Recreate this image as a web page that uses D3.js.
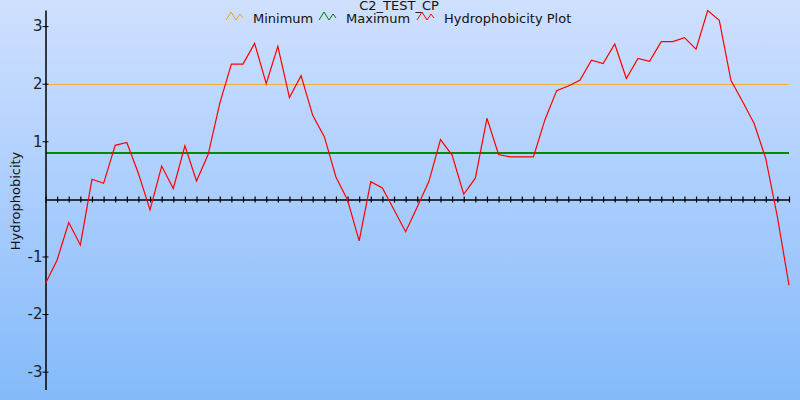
<!DOCTYPE html>
<html>
<head>
<meta charset="utf-8">
<script src="https://cdn.jsdelivr.net/npm/d3@7"></script>
<style>
  html, body { margin: 0; padding: 0; }
  svg { display: block; font-family: "DejaVu Sans", Verdana, sans-serif; }
</style>
</head>
<body>
<svg id="chart" width="800" height="400"></svg>
<script>
const title = "C2_TEST_CP";
const yLabel = "Hydrophobicity";
const legendLabels = ["Minimum", "Maximum", "Hydrophobicity Plot"];
const legendColors = ["#f0a020", "#008000", "#ff0000"];
const minimumValue = 2.0;
const maximumValue = 0.8;
const yTicks = [-3, -2, -1, 1, 2, 3];
const hydro = [
  -1.47, -1.06, -0.41, -0.80, 0.34, 0.27, 0.93, 0.98, 0.44, -0.19,
  0.57, 0.18, 0.92, 0.31, 0.77, 1.66, 2.34, 2.34, 2.70, 2.00,
  2.65, 1.76, 2.14, 1.45, 1.08, 0.38, -0.02, -0.73, 0.30, 0.19,
  -0.19, -0.57, -0.14, 0.30, 1.03, 0.76, 0.08, 0.36, 1.40, 0.77,
  0.73, 0.73, 0.73, 1.38, 1.88, 1.96, 2.06, 2.41, 2.35, 2.69,
  2.09, 2.44, 2.39, 2.73, 2.73, 2.80, 2.60, 3.27, 3.10, 2.06,
  1.69, 1.31, 0.70, -0.31, -1.50
];

const svg = d3.select("#chart");
const W = 800, H = 400;

// background gradient
const defs = svg.append("defs");
const grad = defs.append("linearGradient").attr("id", "bg")
  .attr("x1", 0).attr("y1", 0).attr("x2", 0).attr("y2", 1);
grad.append("stop").attr("offset", "0%").attr("stop-color", "#cfe0ff");
grad.append("stop").attr("offset", "100%").attr("stop-color", "#84bafa");
svg.append("rect").attr("width", W).attr("height", H).attr("fill", "url(#bg)");

const x = d3.scaleLinear().domain([0, hydro.length - 1]).range([45.5, 789]);
const y = d3.scaleLinear().domain([-3.31, 3.28]).range([389.5, 10]);

// threshold lines
svg.append("line")
  .attr("x1", x(0)).attr("x2", x(hydro.length - 1))
  .attr("y1", Math.round(y(minimumValue)) + 0.5).attr("y2", Math.round(y(minimumValue)) + 0.5)
  .attr("stroke", "#f0b040").attr("stroke-width", 1).attr("shape-rendering", "crispEdges");
svg.append("line")
  .attr("x1", x(0)).attr("x2", x(hydro.length - 1))
  .attr("y1", Math.round(y(maximumValue))).attr("y2", Math.round(y(maximumValue)))
  .attr("stroke", "#008a00").attr("stroke-width", 2).attr("shape-rendering", "crispEdges");

// x axis at y=0
const xAxis = d3.axisBottom(x).tickValues(d3.range(hydro.length)).tickSize(3).tickFormat("").tickSizeOuter(0);
const gx = svg.append("g").attr("transform", `translate(0,${Math.round(y(0)) + 0.5})`).call(xAxis);
gx.selectAll(".tick line").attr("y1", -3).attr("y2", 3).attr("stroke", "#000").attr("stroke-width", 1.2);
gx.select(".domain").attr("stroke", "#000").attr("stroke-width", 1.5);

// y axis
const yAxis = d3.axisLeft(y).tickValues(yTicks).tickSize(3).tickSizeOuter(0).tickFormat(d => String(d));
const gy = svg.append("g").attr("transform", "translate(45.5,0)").call(yAxis);
gy.select(".domain").attr("stroke", "#000").attr("stroke-width", 1.5);
gy.selectAll(".tick line").attr("x1", -3).attr("x2", 3).attr("stroke", "#000");
gy.selectAll(".tick text").attr("x", -3).attr("font-size", 15)
  .attr("font-family", "DejaVu Sans, sans-serif").attr("fill", "#222");

// data line
const line = d3.line().x((d, i) => x(i)).y(d => y(d));
svg.append("path").datum(hydro)
  .attr("d", line).attr("fill", "none").attr("stroke", "#ff0000").attr("stroke-width", 1.2);

// y label
svg.append("text")
  .attr("transform", "translate(20,201) rotate(-90)")
  .attr("text-anchor", "middle").attr("font-size", 13).attr("fill", "#111")
  .text(yLabel);

// title
svg.append("text").attr("x", 399).attr("y", 10).attr("text-anchor", "middle")
  .attr("font-size", 13).attr("fill", "#111").text(title);

// legend
const legendX = [226, 319, 417];
const lg = svg.append("g");
legendLabels.forEach((lab, i) => {
  const g = lg.append("g").attr("transform", `translate(${legendX[i]},11)`);
  g.append("path").attr("d", "M0,9 L5,1 L10,9 L14,3 L17,7")
    .attr("fill", "none").attr("stroke", legendColors[i]).attr("stroke-width", 1);
  g.append("text").attr("x", 27).attr("y", 11.5).attr("font-size", 13)
    .attr("fill", "#111").text(lab);
});
</script>
</body>
</html>
